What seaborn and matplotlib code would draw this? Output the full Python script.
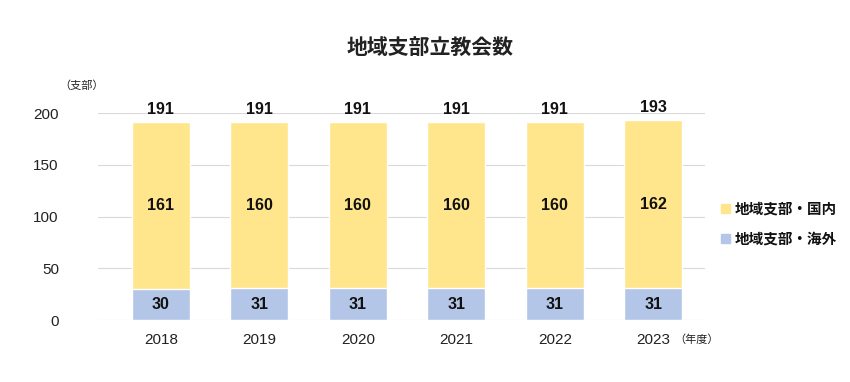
import matplotlib
matplotlib.use("Agg")
import matplotlib.pyplot as plt
import seaborn as sns
import pandas as pd

# データ
years = ["2018", "2019", "2020", "2021", "2022", "2023"]
domestic = [161, 160, 160, 160, 160, 162]
overseas = [30, 31, 31, 31, 31, 31]
totals = [d + o for d, o in zip(domestic, overseas)]

sns.set_style("white")
plt.rcParams["font.family"] = ["Noto Sans CJK JP", "DejaVu Sans"]
num_font = ["Liberation Sans", "DejaVu Sans"]

df = pd.DataFrame({"year": years, "domestic": domestic, "overseas": overseas, "total": totals})

yellow = "#FFE68C"
blue = "#B4C6E7"

fig = plt.figure(figsize=(8.5, 3.82), dpi=100)
ax = fig.add_axes([0.115, 0.162, 0.714, 0.542])

# 合計の棒（黄色）の上に海外分（青）を重ねて積み上げ表示
sns.barplot(data=df, x="year", y="total", color=yellow, width=0.59, ax=ax, saturation=1)
sns.barplot(data=df, x="year", y="overseas", color=blue, width=0.59, ax=ax, saturation=1)

ax.set_ylim(0, 200)
ax.set_xlim(-0.64, 5.52)
ax.set_yticks([0, 50, 100, 150, 200])
ax.yaxis.grid(True, color="#D9D9D9", linewidth=0.8)
ax.set_axisbelow(True)
for s in ax.spines.values():
    s.set_visible(False)
ax.tick_params(axis="both", length=0, labelsize=11, colors="#222222")
ax.tick_params(axis="y", pad=28)
ax.tick_params(axis="x", pad=9)
for lab in ax.get_xticklabels() + ax.get_yticklabels():
    lab.set_family(num_font)
ax.set_xlabel("")
ax.set_ylabel("")

for i in range(len(years)):
    ax.text(i, totals[i] + 5, str(totals[i]), ha="center", va="bottom", family=num_font,
            fontsize=11.5, fontweight="bold", color="#111111", clip_on=False)
    ax.text(i, overseas[i] + domestic[i] / 2, str(domestic[i]), ha="center", va="center",
            family=num_font, fontsize=11.5, fontweight="bold", color="#111111")
    ax.text(i, overseas[i] / 2, str(overseas[i]), ha="center", va="center",
            family=num_font, fontsize=11.5, fontweight="bold", color="#111111")

fig.text(0.506, 0.877, "地域支部立教会数", ha="center", va="center",
         fontsize=15, fontweight="bold", color="#222222")
fig.text(0.070, 0.777, "（支部）", ha="left", va="center", fontsize=8, color="#222222")
fig.text(0.793, 0.111, "（年度）", ha="left", va="center", fontsize=8, color="#222222")

# 凡例
fig.patches.append(plt.Rectangle((0.848, 0.442), 0.011, 0.024, transform=fig.transFigure,
                                 color=yellow, figure=fig))
fig.patches.append(plt.Rectangle((0.848, 0.364), 0.011, 0.024, transform=fig.transFigure,
                                 color=blue, figure=fig))
fig.text(0.864, 0.455, "地域支部・国内", ha="left", va="center", fontsize=10.5,
         fontweight="bold", color="#111111")
fig.text(0.864, 0.377, "地域支部・海外", ha="left", va="center", fontsize=10.5,
         fontweight="bold", color="#111111")

fig.savefig("out.png", dpi=100)
